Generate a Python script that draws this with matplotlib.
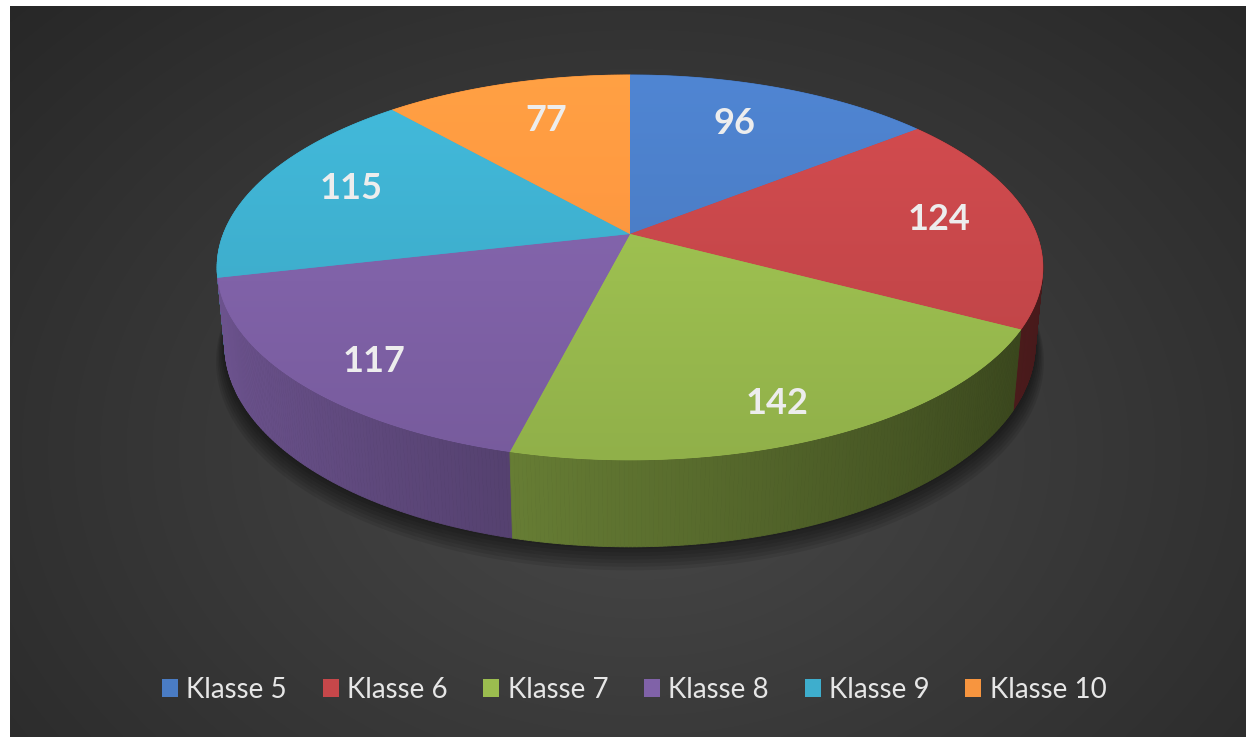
import numpy as np
import matplotlib
matplotlib.use('Agg')
import matplotlib.pyplot as plt
from matplotlib.patches import Polygon, Patch
from matplotlib.collections import PolyCollection
from matplotlib.colors import to_rgb

# data
categories = ['Klasse 5', 'Klasse 6', 'Klasse 7', 'Klasse 8', 'Klasse 9', 'Klasse 10']
values = [96, 124, 142, 117, 115, 77]
colors = ['#4a7cc4', '#c6474a', '#9bbd4f', '#8062a8', '#3eaecd', '#f7953f']

W, H = 1246, 737
fig = plt.figure(figsize=(W / 100, H / 100), dpi=100)
fig.patch.set_facecolor('white')
ax = fig.add_axes([0, 0, 1, 1])
ax.set_xlim(0, W)
ax.set_ylim(H, 0)
ax.axis('off')

# dark radial background panel
yy, xx = np.mgrid[6:737:2, 10:1246:2]
d = np.sqrt(((xx - 640) / 700.0) ** 2 + ((yy - 450) / 520.0) ** 2)
g = np.clip(0.285 - 0.105 * d, 0.14, 0.3)
ax.imshow(np.dstack([g, g, g]), extent=(10, 1246, 737, 6), aspect='auto',
          interpolation='bilinear', zorder=0)

# simple perspective projection of a flat cylinder
elev = np.radians(26.8)
se, ce = np.sin(elev), np.cos(elev)
D, FX, FY = 5.14, 2090.0, 2128.0
cx, cy = 630.0, 234.0
thick = 0.21


def proj(X, Y, Z):
    yp = Y * ce - Z * se
    dep = D - (Y * se + Z * ce)
    return cx + FX * X / dep, cy - FY * yp / dep


def rim(theta, r=1.0, Y=0.0):
    return proj(r * np.sin(theta), Y + 0 * theta, -r * np.cos(theta))


total = float(sum(values))
bounds = np.concatenate([[0], np.cumsum(values)]) / total * 2 * np.pi

# soft shadow below the pie
full = np.linspace(0, 2 * np.pi, 400)
for k in range(7):
    sx, sy = rim(full, 1.0 + 0.004 * k, -thick - 0.006 * k)
    ax.add_patch(Polygon(np.c_[sx, sy + 2], closed=True, fc='black',
                         ec='none', alpha=0.09, zorder=1))

# side walls
quads, fcols, depths = [], [], []
for i, col in enumerate(colors):
    a0, a1 = bounds[i], bounds[i + 1]
    n = max(int(np.degrees(a1 - a0) * 2), 2)
    th = np.linspace(a0, a1, n + 1)
    base = np.array(to_rgb(col))
    for t0, t1 in zip(th[:-1], th[1:]):
        x0, y0 = rim(t0)
        x1, y1 = rim(t1)
        x2, y2 = rim(t1, Y=-thick)
        x3, y3 = rim(t0, Y=-thick)
        quads.append([(x0, y0), (x1, y1), (x2, y2), (x3, y3)])
        tm = 0.5 * (t0 + t1)
        fac = 0.6 - 0.25 * np.sin(tm)
        fcols.append(np.clip(base * fac, 0, 1))
        depths.append(D + np.cos(tm) * ce)
order = np.argsort(depths)[::-1]
pc = PolyCollection([quads[j] for j in order], facecolors=[fcols[j] for j in order],
                    edgecolors=[fcols[j] for j in order], linewidths=0.6, zorder=2)
ax.add_collection(pc)

# top faces with a light vertical gradient
ytop, ybot = 70, 465
grad = np.linspace(1.08, 0.93, 200)[:, None]
for i, col in enumerate(colors):
    a0, a1 = bounds[i], bounds[i + 1]
    th = np.linspace(a0, a1, 120)
    px, py = rim(th)
    pts = np.vstack([[cx, cy], np.c_[px, py]])
    poly = Polygon(pts, closed=True, fc=col, ec=col, lw=0.5, zorder=3)
    ax.add_patch(poly)
    base = np.array(to_rgb(col))
    img = np.clip(grad[:, :, None] * base[None, None, :] * np.ones((1, 2, 1)), 0, 1)
    im = ax.imshow(img, extent=(200, 1060, ybot, ytop), aspect='auto',
                   interpolation='bilinear', zorder=4)
    im.set_clip_path(poly)

# value labels (pushed outwards at the front, inwards at the back)
for i, v in enumerate(values):
    tm = 0.5 * (bounds[i] + bounds[i + 1])
    tl = tm - 0.05 * np.sin(2 * tm)
    rl = 0.78 - 0.07 * np.cos(tm)
    lx, ly = rim(tl, rl)
    ax.text(lx, ly, str(v), ha='center', va='center', fontsize=26,
            fontweight='bold', family=['Lato', 'DejaVu Sans'], color='#ededed', zorder=6)

ax.set_xlim(0, W)
ax.set_ylim(H, 0)

handles = [Patch(facecolor=c, edgecolor='none') for c in colors]
fig.legend(handles, categories, loc='center', bbox_to_anchor=(0.509, 0.064), ncol=6,
           frameon=False, prop={'family': ['Lato', 'DejaVu Sans'], 'size': 20},
           labelcolor='#e6e6e6', handlelength=0.58, handleheight=0.58,
           handletextpad=0.3, columnspacing=1.28)

fig.savefig('out.png', dpi=100)
